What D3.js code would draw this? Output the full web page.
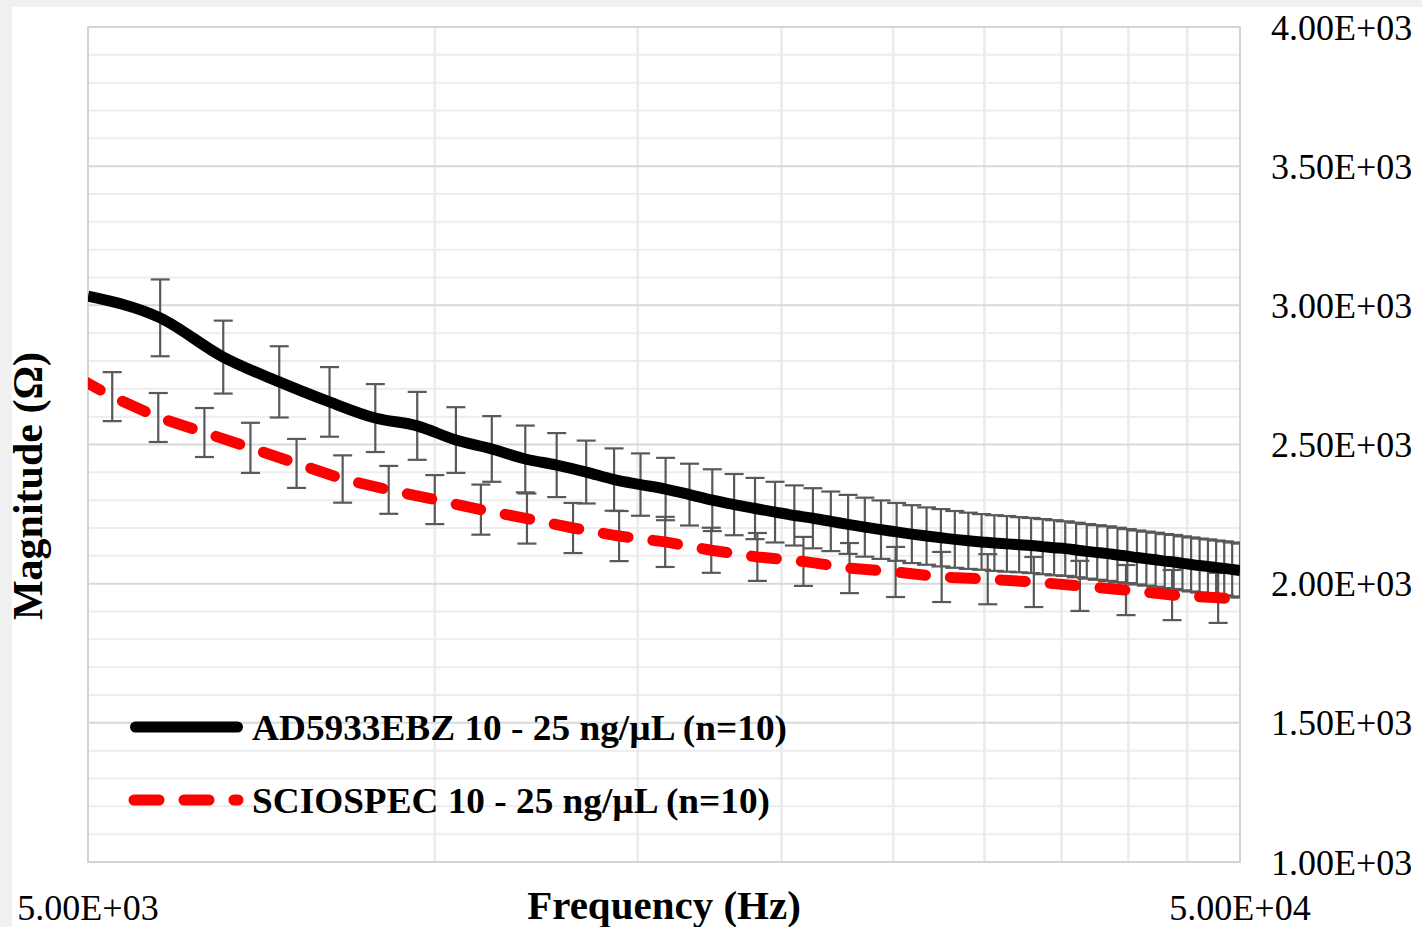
<!DOCTYPE html>
<html>
<head>
<meta charset="utf-8">
<script src="https://cdn.jsdelivr.net/npm/d3@7"></script>
<style>
  html, body { margin: 0; padding: 0; background: #f0f0f0; }
  svg { display: block; font-family: "Liberation Serif", "Times New Roman", serif; }
</style>
</head>
<body>
<div id="chart"></div>
<script>
// AD5933EBZ sweep (linear steps), magnitude and std dev
const adFreq = [5000, 5776, 6552, 7328, 8103, 8879, 9655, 10431, 11207, 11983,
  12759, 13534, 14310, 15086, 15862, 16638, 17414, 18190, 18966, 19741,
  20517, 21293, 22069, 22845, 23621, 24397, 25172, 25948, 26724, 27500,
  28276, 29052, 29828, 30603, 31379, 32155, 32931, 33707, 34483, 35259,
  36034, 36810, 37586, 38362, 39138, 39914, 40690, 41466, 42241, 43017,
  43793, 44569, 45345, 46121, 46897, 47672, 48448, 49224, 50000];
const adMag = [3033, 2955, 2814, 2725, 2653, 2595, 2567, 2516, 2484, 2448,
  2426, 2401, 2374, 2356, 2340, 2320, 2300, 2284, 2270, 2257,
  2245, 2235, 2224, 2213, 2203, 2194, 2186, 2178, 2171, 2165,
  2159, 2154, 2150, 2146, 2143, 2140, 2137, 2133, 2129, 2126,
  2121, 2116, 2112, 2108, 2103, 2099, 2094, 2090, 2086, 2081,
  2078, 2073, 2069, 2065, 2062, 2058, 2055, 2051, 2047];
const adErr = [145, 138, 131, 128, 125, 122, 122, 118, 118, 120,
  115, 113, 112, 112, 112, 111, 111, 110, 110, 109,
  108, 108, 107, 106, 106, 105, 104, 104, 103, 103,
  102, 101, 100, 100, 100, 99, 99, 99, 99, 98,
  98, 98, 98, 98, 98, 97, 97, 97, 97, 97,
  97, 97, 97, 97, 97, 97, 97, 97, 97];

// SCIOSPEC sweep (log steps, 25 per decade)
const scioFreq = [4786, 5248, 5754, 6310, 6918, 7586, 8318, 9120, 10000, 10965,
  12023, 13183, 14454, 15849, 17378, 19055, 20893, 22909, 25119, 27542,
  30200, 33113, 36308, 39811, 43652, 47863, 52481];
const scioMag = [2764, 2672, 2597, 2543, 2488, 2432, 2376, 2337, 2302, 2266,
  2234, 2200, 2171, 2150, 2120, 2096, 2080, 2056, 2042, 2024,
  2016, 2006, 1992, 1977, 1959, 1949, 1940];
const scioErr = [88, 88, 88, 88, 90, 88, 85, 86, 88, 90,
  90, 90, 90, 90, 81, 86, 88, 90, 90, 90,
  90, 90, 90, 90, 90, 90, 90];

const seriesNames = ["AD5933EBZ 10 - 25 ng/\u00b5L (n=10)", "SCIOSPEC 10 - 25 ng/\u00b5L (n=10)"];
const yTicks = [1000, 1500, 2000, 2500, 3000, 3500, 4000];
const yMinor = d3.range(1000, 4001, 100);
const xTicks = [5000, 50000];
const xMinor = [10000, 15000, 20000, 25000, 30000, 35000, 40000, 45000];

const width = 1422, height = 927;
const plot = { left: 88, right: 1240, top: 27, bottom: 862 };

const fmt = v => v.toExponential(2).toUpperCase().replace(/E\+(\d)$/, "E+0$1");

const x = d3.scaleLog().domain([5000, 50000]).range([plot.left, plot.right]);
const y = d3.scaleLinear().domain([1000, 4000]).range([plot.bottom, plot.top]);

const svg = d3.select("#chart").append("svg")
    .attr("width", width)
    .attr("height", height);

svg.append("rect")
    .attr("x", 12).attr("y", 7)
    .attr("width", width - 12).attr("height", height)
    .attr("fill", "#ffffff");

svg.append("clipPath").attr("id", "plotclip")
  .append("rect")
    .attr("x", plot.left).attr("y", plot.top)
    .attr("width", plot.right - plot.left).attr("height", plot.bottom - plot.top);

// gridlines
const grid = svg.append("g");
grid.selectAll("line.hmin")
  .data(yMinor.filter(v => v % 500 !== 0))
  .join("line")
    .attr("x1", plot.left).attr("x2", plot.right)
    .attr("y1", d => y(d)).attr("y2", d => y(d))
    .attr("stroke", "#ededed").attr("stroke-width", 2);
grid.selectAll("line.vmin")
  .data(xMinor)
  .join("line")
    .attr("x1", d => x(d)).attr("x2", d => x(d))
    .attr("y1", plot.top).attr("y2", plot.bottom)
    .attr("stroke", "#ebebeb").attr("stroke-width", 2.5);
grid.selectAll("line.hmaj")
  .data(yTicks)
  .join("line")
    .attr("x1", plot.left).attr("x2", plot.right)
    .attr("y1", d => y(d)).attr("y2", d => y(d))
    .attr("stroke", "#d9d9d9").attr("stroke-width", 2);

svg.append("rect")
    .attr("x", plot.left).attr("y", plot.top)
    .attr("width", plot.right - plot.left).attr("height", plot.bottom - plot.top)
    .attr("fill", "none")
    .attr("stroke", "#d4d4d4").attr("stroke-width", 2);

// error bars
const capW = 9.5;
function errorBars(freq, mag, err, skipFirst) {
  const pts = freq.map((f, i) => ({ f, v: mag[i], e: err[i], i }))
    .filter(d => d.f > 5000 && d.f <= 50000 || (!skipFirst && d.f === 5000));
  const g = svg.append("g")
      .attr("clip-path", "url(#plotclip)")
      .attr("stroke", "#595959").attr("stroke-width", 2.2)
      .attr("fill", "none");
  const bar = g.selectAll("g").data(pts).join("g");
  bar.append("line")
      .attr("x1", d => x(d.f)).attr("x2", d => x(d.f))
      .attr("y1", d => y(d.v + d.e)).attr("y2", d => y(d.v - d.e));
  bar.append("line")
      .attr("x1", d => x(d.f) - capW).attr("x2", d => x(d.f) + capW)
      .attr("y1", d => y(d.v + d.e)).attr("y2", d => y(d.v + d.e));
  bar.append("line")
      .attr("x1", d => x(d.f) - capW).attr("x2", d => x(d.f) + capW)
      .attr("y1", d => y(d.v - d.e)).attr("y2", d => y(d.v - d.e));
}
errorBars(adFreq, adMag, adErr, true);
errorBars(scioFreq, scioMag, scioErr, false);

// lines
const lines = svg.append("g").attr("clip-path", "url(#plotclip)").attr("fill", "none");

lines.append("path")
    .datum(scioFreq.map((f, i) => [f, scioMag[i]]))
    .attr("d", d3.line().x(d => x(d[0])).y(d => y(d[1])))
    .attr("stroke", "#ff0000")
    .attr("stroke-width", 11)
    .attr("stroke-linecap", "round")
    .attr("stroke-dasharray", "25,25")
    .attr("stroke-dashoffset", -14);

lines.append("path")
    .datum(adFreq.map((f, i) => [f, adMag[i]]))
    .attr("d", d3.line().curve(d3.curveMonotoneX).x(d => x(d[0])).y(d => y(d[1])))
    .attr("stroke", "#000000")
    .attr("stroke-width", 11)
    .attr("stroke-linejoin", "round");

// y axis labels (right side)
svg.append("g")
  .selectAll("text")
  .data(yTicks)
  .join("text")
    .attr("x", 1271)
    .attr("y", d => y(d))
    .attr("dy", "0.35em")
    .attr("font-size", 36)
    .attr("fill", "#000")
    .text(fmt);

// x axis labels
svg.append("g")
  .selectAll("text")
  .data(xTicks)
  .join("text")
    .attr("x", d => x(d))
    .attr("y", 920)
    .attr("text-anchor", "middle")
    .attr("font-size", 36)
    .attr("fill", "#000")
    .text(fmt);

svg.append("text")
    .attr("x", (plot.left + plot.right) / 2)
    .attr("y", 919)
    .attr("text-anchor", "middle")
    .attr("font-size", 41)
    .attr("font-weight", "bold")
    .text("Frequency (Hz)");

svg.append("text")
    .attr("transform", "translate(42,486) rotate(-90)")
    .attr("text-anchor", "middle")
    .attr("font-size", 42)
    .attr("font-weight", "bold")
    .text("Magnitude (\u03a9)");

// legend
const legend = svg.append("g");
const legendY = [727, 800];
const legendW = [535, 518];
legend.append("line")
    .attr("x1", 135.5).attr("x2", 237.5)
    .attr("y1", legendY[0]).attr("y2", legendY[0])
    .attr("stroke", "#000").attr("stroke-width", 11).attr("stroke-linecap", "round");
legend.append("line")
    .attr("x1", 134).attr("x2", 238)
    .attr("y1", legendY[1]).attr("y2", legendY[1])
    .attr("stroke", "#ff0000").attr("stroke-width", 11).attr("stroke-linecap", "round")
    .attr("stroke-dasharray", "25,25");
legend.selectAll("text")
  .data(seriesNames)
  .join("text")
    .attr("x", 252)
    .attr("y", (d, i) => legendY[i] + 13)
    .attr("font-size", 35)
    .attr("font-weight", "bold")
    .attr("textLength", (d, i) => legendW[i])
    .attr("lengthAdjust", "spacingAndGlyphs")
    .text(d => d);
</script>
</body>
</html>
